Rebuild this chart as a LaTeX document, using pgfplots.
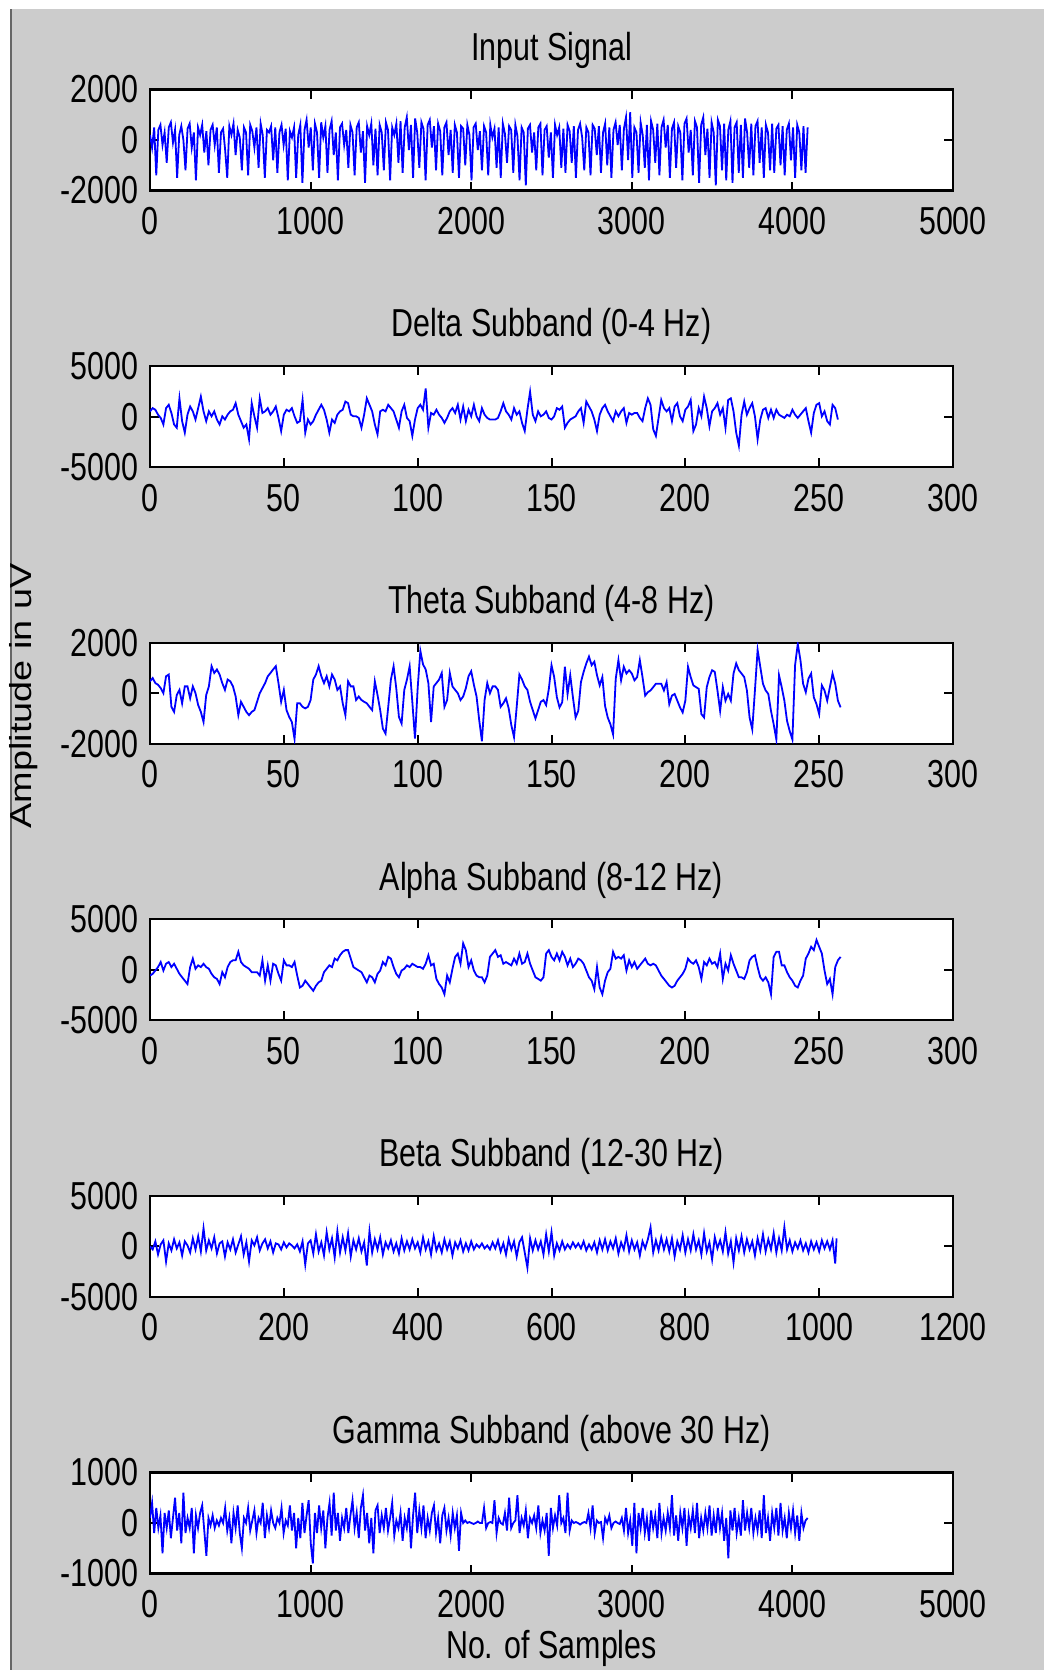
\documentclass[border=0pt]{standalone}
\usepackage{pgfplots}
\pgfplotsset{compat=1.18}
\usepackage{fontspec}
\setmainfont{Liberation Sans}[FakeStretch=0.78]
\newfontfamily\ylabfont{Liberation Sans}
\definecolor{figbg}{RGB}{204,204,204}
\definecolor{sigblue}{RGB}{0,0,255}

\pgfplotsset{
  sub/.style={
    scale only axis, width=401.5pt, height=50.5pt,
    anchor=north west,
    axis background/.style={fill=white},
    axis line style={line width=1.1pt},
    tick align=inside, tick pos=both,
    major tick length=4.5pt,
    every tick/.style={black, line width=1pt},
    tick label style={font=\fontsize{19.5}{22}\selectfont},
    xticklabel style={anchor=base, yshift=-22pt, inner sep=0pt},
    yticklabel style={anchor=east, xshift=-5.75pt, inner sep=0pt},
    title style={font=\fontsize{19.5}{22}\selectfont, anchor=base, at={(0.5,1)}, yshift=8.65pt, inner sep=0pt},
    /pgf/number format/assume math mode=true,
  },
  sig/.style={sigblue, line width=0.9pt, mark=none},
  ticks5000/.style={xmin=0, xmax=5000, xtick={0,1000,2000,3000,4000,5000}, xticklabels={0,1000,2000,3000,4000,5000}},
  ticks300/.style={xmin=0, xmax=300, xtick={0,50,100,150,200,250,300}, xticklabels={0,50,100,150,200,250,300}},
}

\begin{document}
\begin{tikzpicture}[font=\fontsize{19.5}{22}\selectfont]
\useasboundingbox (0,0) rectangle (522pt,-835pt);
\clip (0,0) rectangle (522pt,-835pt);
\fill[white] (0,0) rectangle (522pt,-835pt);
\fill[figbg] (6pt,-4.5pt) rectangle (522pt,-835pt);
\draw[line width=1.2pt, black!60] (5.4pt,-4.5pt) -- (5.4pt,-835pt);

% Input signal
\begin{axis}[sub, at={(75pt,-44.75pt)}, ticks5000,
  ymin=-2000, ymax=2000, ytick={-2000,0,2000}, yticklabels={-2000,0,2000},
  title={Input Signal}]
\addplot[sig] coordinates {
(0,200)(13,-300)(26,500)(39,-1400)(52,400)(65,600)(78,-200)(91,300)(104,-900)(117,500)
(130,700)(143,-100)(156,400)(169,-1500)(182,200)(195,550)(208,0)(221,-1200)(234,450)(247,650)
(260,-300)(273,300)(286,-1600)(299,500)(312,200)(325,600)(338,-500)(351,350)(364,-1000)(377,400)
(390,600)(403,-200)(416,500)(429,-1300)(442,300)(455,450)(468,-400)(481,-1500)(494,550)(507,200)
(520,650)(533,-600)(546,400)(559,100)(572,-1200)(585,500)(598,300)(611,-1400)(624,600)(637,350)
(650,-300)(663,500)(676,-1100)(689,650)(702,200)(715,-1500)(728,400)(741,300)(754,550)(767,-800)
(780,500)(793,-1300)(806,300)(819,600)(832,-200)(845,450)(858,-1600)(871,350)(884,100)(897,500)
(910,-1500)(923,200)(936,600)(949,-1700)(962,400)(975,800)(988,-300)(1001,500)(1014,-1200)(1027,650)
(1040,300)(1053,-1500)(1066,700)(1079,100)(1092,550)(1105,-1300)(1118,400)(1131,750)(1144,-600)(1157,300)
(1170,-1600)(1183,500)(1196,650)(1209,-200)(1222,400)(1235,-1100)(1248,600)(1261,300)(1274,-1400)(1287,500)
(1300,700)(1313,-500)(1326,350)(1339,-1700)(1352,550)(1365,200)(1378,650)(1391,-1000)(1404,450)(1417,-1400)
(1430,600)(1443,300)(1456,-1200)(1469,700)(1482,400)(1495,-1600)(1508,500)(1521,200)(1534,650)(1547,-900)
(1560,750)(1573,-1300)(1586,500)(1599,900)(1612,-400)(1625,600)(1638,-1500)(1651,850)(1664,300)(1677,-1100)
(1690,700)(1703,450)(1716,-1600)(1729,600)(1742,800)(1755,-300)(1768,550)(1781,-1200)(1794,650)(1807,350)
(1820,-1400)(1833,500)(1846,700)(1859,-600)(1872,400)(1885,-1300)(1898,600)(1911,300)(1924,-1500)(1937,550)
(1950,450)(1963,-1000)(1976,600)(1989,200)(2002,-1600)(2015,500)(2028,650)(2041,-400)(2054,350)(2067,-1200)
(2080,550)(2093,300)(2106,-1400)(2119,600)(2132,100)(2145,450)(2158,-1100)(2171,500)(2184,-1500)(2197,650)
(2210,250)(2223,-900)(2236,550)(2249,400)(2262,-1300)(2275,600)(2288,150)(2301,-1600)(2314,500)(2327,300)
(2340,-1800)(2353,450)(2366,600)(2379,-500)(2392,300)(2405,-1200)(2418,500)(2431,650)(2444,-1400)(2457,400)
(2470,550)(2483,-700)(2496,300)(2509,-1500)(2522,600)(2535,200)(2548,500)(2561,-1100)(2574,450)(2587,-1300)
(2600,600)(2613,350)(2626,-900)(2639,550)(2652,-1500)(2665,400)(2678,650)(2691,100)(2704,-1200)(2717,500)
(2730,300)(2743,-1400)(2756,600)(2769,450)(2782,-600)(2795,550)(2808,-1300)(2821,300)(2834,650)(2847,-1000)
(2860,500)(2873,-1500)(2886,400)(2899,700)(2912,-200)(2925,600)(2938,-1200)(2951,450)(2964,900)(2977,-800)
(2990,1100)(3003,-1500)(3016,500)(3029,300)(3042,-1300)(3055,700)(3068,200)(3081,-1100)(3094,600)(3107,-1600)
(3120,750)(3133,400)(3146,-900)(3159,650)(3172,-1400)(3185,500)(3198,800)(3211,-300)(3224,600)(3237,-1500)
(3250,450)(3263,700)(3276,-1100)(3289,550)(3302,300)(3315,-1600)(3328,650)(3341,850)(3354,-500)(3367,400)
(3380,-1400)(3393,750)(3406,500)(3419,-1700)(3432,600)(3445,900)(3458,-600)(3471,450)(3484,-1500)(3497,700)
(3510,300)(3523,-1800)(3536,800)(3549,550)(3562,-1200)(3575,650)(3588,-1600)(3601,400)(3614,750)(3627,-1700)
(3640,500)(3653,700)(3666,-1300)(3679,600)(3692,-1500)(3705,850)(3718,300)(3731,-1100)(3744,650)(3757,-1400)
(3770,550)(3783,750)(3796,-900)(3809,500)(3822,-1500)(3835,600)(3848,300)(3861,-1200)(3874,650)(3887,-1300)
(3900,450)(3913,600)(3926,-1000)(3939,550)(3952,-1400)(3965,400)(3978,650)(3991,-800)(4004,500)(4017,-1500)
(4030,600)(4043,300)(4056,-1200)(4069,550)(4082,-1300)(4095,500)
};
\end{axis}

% Delta
\begin{axis}[sub, at={(75pt,-183.05pt)}, ticks300,
  ymin=-5000, ymax=5000, ytick={-5000,0,5000}, yticklabels={-5000,0,5000},
  title={Delta Subband (0-4 Hz)}]
\addplot[sig] coordinates {
(0,520)(1,840)(2,680)(3,190)(4,-130)(5,-780)(6,840)(7,1170)(8,360)(9,-780)
(10,-1100)(11,1810)(12,-450)(13,-1590)(14,190)(15,1000)(16,520)(17,-290)(18,840)(19,1980)
(20,520)(21,-450)(22,520)(23,30)(24,520)(25,-290)(26,-780)(27,30)(28,-290)(29,190)
(30,520)(31,680)(32,1330)(33,190)(34,-450)(35,-1100)(36,-780)(37,-2240)(38,1330)(39,30)
(40,-1100)(41,1810)(42,360)(43,520)(44,840)(45,190)(46,520)(47,1000)(48,-130)(49,-1430)
(50,190)(51,680)(52,520)(53,840)(54,30)(55,-620)(56,-450)(57,1650)(58,-1590)(59,-290)
(60,-780)(61,-450)(62,190)(63,680)(64,1170)(65,680)(66,-290)(67,-1590)(68,-290)(69,-620)
(70,190)(71,520)(72,680)(73,1490)(74,1330)(75,190)(76,30)(77,30)(78,-130)(79,-1100)
(80,190)(81,1810)(82,1170)(83,520)(84,-780)(85,-1750)(86,520)(87,680)(88,520)(89,1170)
(90,840)(91,520)(92,-290)(93,-1100)(94,520)(95,1170)(96,-130)(97,-450)(98,-1910)(99,-290)
(100,840)(101,1170)(102,680)(103,2790)(104,-1100)(105,360)(106,190)(107,680)(108,190)(109,-130)
(110,-620)(111,-130)(112,520)(113,840)(114,360)(115,1170)(116,-290)(117,1000)(118,-450)(119,680)
(120,30)(121,1170)(122,30)(123,-450)(124,840)(125,190)(126,-130)(127,-290)(128,-290)(129,-290)
(130,-130)(131,520)(132,1330)(133,520)(134,190)(135,-290)(136,840)(137,190)(138,520)(139,-620)
(140,-1430)(141,680)(142,2460)(143,190)(144,-450)(145,520)(146,30)(147,190)(148,520)(149,-130)
(150,-290)(151,30)(152,840)(153,680)(154,1000)(155,-1100)(156,-620)(157,-290)(158,-130)(159,30)
(160,520)(161,840)(162,-620)(163,1490)(164,1000)(165,520)(166,-290)(167,-1430)(168,190)(169,840)
(170,1170)(171,520)(172,30)(173,-450)(174,520)(175,30)(176,520)(177,840)(178,-620)(179,360)
(180,190)(181,360)(182,360)(183,-130)(184,-450)(185,840)(186,1810)(187,1170)(188,-1260)(189,-1910)
(190,-130)(191,1650)(192,840)(193,520)(194,840)(195,-450)(196,1000)(197,1330)(198,30)(199,-450)
(200,680)(201,1000)(202,1650)(203,-1430)(204,-780)(205,840)(206,30)(207,1980)(208,840)(209,-940)
(210,520)(211,840)(212,1330)(213,190)(214,840)(215,-1100)(216,1650)(217,1810)(218,520)(219,-1590)
(220,-2880)(221,190)(222,1490)(223,190)(224,840)(225,1330)(226,30)(227,-2240)(228,-290)(229,680)
(230,840)(231,-130)(232,680)(233,-130)(234,680)(235,190)(236,30)(237,-130)(238,190)(239,30)
(240,680)(241,190)(242,-130)(243,190)(244,520)(245,840)(246,-450)(247,-1590)(248,360)(249,1170)
(250,1330)(251,30)(252,520)(253,-450)(254,-780)(255,1170)(256,840)(257,-290)
};
\end{axis}

% Theta
\begin{axis}[sub, at={(75pt,-321.35pt)}, ticks300,
  ymin=-2000, ymax=2000, ytick={-2000,0,2000}, yticklabels={-2000,0,2000},
  title={Theta Subband (4-8 Hz)}]
\addplot[sig] coordinates {
(0,470)(1,600)(2,400)(3,335)(4,200)(5,0)(6,670)(7,740)(8,-540)(9,-740)
(10,-70)(11,130)(12,-400)(13,270)(14,270)(15,-200)(16,270)(17,0)(18,-470)(19,-740)
(20,-1140)(21,-70)(22,270)(23,1070)(24,800)(25,940)(26,740)(27,400)(28,130)(29,540)
(30,470)(31,270)(32,-130)(33,-870)(34,-340)(35,-540)(36,-740)(37,-870)(38,-740)(39,-670)
(40,-340)(41,0)(42,200)(43,400)(44,670)(45,800)(46,940)(47,1070)(48,400)(49,-340)
(50,130)(51,-670)(52,-940)(53,-1140)(54,-1810)(55,-400)(56,-400)(57,-540)(58,-600)(59,-540)
(60,-270)(61,540)(62,740)(63,1070)(64,670)(65,400)(66,670)(67,270)(68,740)(69,540)
(70,130)(71,270)(72,-400)(73,-870)(74,470)(75,270)(76,270)(77,-270)(78,-130)(79,-270)
(80,-340)(81,-400)(82,-540)(83,-670)(84,470)(85,-70)(86,-670)(87,-1400)(88,-1600)(89,-540)
(90,540)(91,1070)(92,200)(93,-940)(94,-1200)(95,130)(96,540)(97,1070)(98,-340)(99,-1800)
(100,200)(101,1680)(102,1140)(103,940)(104,400)(105,-1140)(106,270)(107,400)(108,540)(109,800)
(110,-540)(111,-270)(112,800)(113,270)(114,130)(115,0)(116,-270)(117,-130)(118,200)(119,670)
(120,870)(121,335)(122,-130)(123,-1070)(124,-1900)(125,-270)(126,400)(127,0)(128,270)(129,270)
(130,130)(131,-540)(132,-400)(133,-200)(134,-600)(135,-1270)(136,-1740)(137,-540)(138,740)(139,540)
(140,270)(141,130)(142,-340)(143,-670)(144,-1000)(145,-670)(146,-340)(147,-270)(148,-470)(149,170)
(150,1110)(151,640)(152,-160)(153,-560)(154,-360)(155,1045)(156,-30)(157,710)(158,-160)(159,-960)
(160,-700)(161,440)(162,845)(163,1180)(164,1450)(165,1110)(166,1250)(167,710)(168,310)(169,640)
(170,-500)(171,-960)(172,-1230)(173,-1630)(174,575)(175,1310)(176,510)(177,1045)(178,780)(179,910)
(180,780)(181,510)(182,640)(183,1310)(184,640)(185,-95)(186,40)(187,110)(188,240)(189,375)
(190,375)(191,375)(192,110)(193,440)(194,-430)(195,-95)(196,-30)(197,-295)(198,-560)(199,-760)
(200,-295)(201,1045)(202,640)(203,310)(204,240)(205,175)(206,-830)(207,-960)(208,240)(209,640)
(210,910)(211,845)(212,110)(213,-700)(214,240)(215,-295)(216,-30)(217,-295)(218,780)(219,1180)
(220,910)(221,780)(222,640)(223,110)(224,-960)(225,-1430)(226,110)(227,1715)(228,1045)(229,375)
(230,110)(231,-30)(232,-700)(233,-1230)(234,-1835)(235,710)(236,240)(237,-295)(238,-1100)(239,-1500)
(240,-1835)(241,1110)(242,1950)(243,1310)(244,375)(245,40)(246,575)(247,780)(248,-160)(249,-430)
(250,-830)(251,310)(252,110)(253,-295)(254,240)(255,780)(256,375)(257,-295)(258,-560)
};
\end{axis}

% Alpha
\begin{axis}[sub, at={(75pt,-459.65pt)}, ticks300,
  ymin=-5000, ymax=5000, ytick={-5000,0,5000}, yticklabels={-5000,0,5000},
  title={Alpha Subband (8-12 Hz)}]
\addplot[sig] coordinates {
(0,-570)(1,-400)(2,-70)(3,270)(4,770)(5,-70)(6,600)(7,770)(8,270)(9,600)
(10,100)(11,-400)(12,-740)(13,-1075)(14,-1410)(15,270)(16,1110)(17,100)(18,440)(19,270)
(20,600)(21,270)(22,100)(23,-400)(24,-740)(25,-900)(26,-1410)(27,-235)(28,-740)(29,270)
(30,770)(31,940)(32,940)(33,1780)(34,770)(35,440)(36,270)(37,100)(38,-235)(39,-235)
(40,-235)(41,-570)(42,940)(43,-1075)(44,440)(45,-1075)(46,600)(47,440)(48,-400)(49,-1075)
(50,940)(51,440)(52,440)(53,270)(54,770)(55,-570)(56,-1750)(57,-1580)(58,-1075)(59,-1410)
(60,-1750)(61,-2080)(62,-1580)(63,-1240)(64,-1075)(65,-235)(66,100)(67,440)(68,270)(69,1110)
(70,940)(71,1445)(72,1780)(73,1950)(74,1950)(75,1110)(76,270)(77,100)(78,-70)(79,-235)
(80,-740)(81,-1240)(82,-570)(83,-740)(84,-1240)(85,-400)(86,-70)(87,770)(88,440)(89,1280)
(90,1110)(91,270)(92,-400)(93,-740)(94,-70)(95,100)(96,440)(97,270)(98,600)(99,440)
(100,270)(101,270)(102,100)(103,600)(104,1445)(105,440)(106,600)(107,-900)(108,-1410)(109,-1750)
(110,-2420)(111,-570)(112,-1240)(113,100)(114,1280)(115,1610)(116,600)(117,2620)(118,1950)(119,270)
(120,940)(121,-70)(122,-570)(123,-740)(124,-740)(125,-1240)(126,-570)(127,1280)(128,1610)(129,1950)
(130,1280)(131,1445)(132,600)(133,770)(134,600)(135,440)(136,1110)(137,600)(138,1610)(139,600)
(140,770)(141,1610)(142,600)(143,-70)(144,-740)(145,-900)(146,-1075)(147,-740)(148,1610)(149,1950)
(150,1280)(151,940)(152,1610)(153,940)(154,1780)(155,1280)(156,440)(157,1110)(158,270)(159,600)
(160,1110)(161,940)(162,600)(163,-70)(164,-740)(165,-1075)(166,-1915)(167,270)(168,-1750)(169,-2420)
(170,-1075)(171,-235)(172,100)(173,1780)(174,1110)(175,1280)(176,1110)(177,1445)(178,-70)(179,940)
(180,270)(181,770)(182,100)(183,440)(184,770)(185,1110)(186,600)(187,440)(188,600)(189,440)
(190,-70)(191,-570)(192,-900)(193,-1240)(194,-1580)(195,-1750)(196,-1580)(197,-1075)(198,-740)(199,-400)
(200,100)(201,1110)(202,770)(203,600)(204,940)(205,270)(206,-900)(207,770)(208,440)(209,1110)
(210,600)(211,770)(212,270)(213,1610)(214,-900)(215,600)(216,-70)(217,1445)(218,600)(219,-70)
(220,-740)(221,-740)(222,-900)(223,-235)(224,940)(225,1280)(226,1445)(227,270)(228,-740)(229,-1075)
(230,-740)(231,-1240)(232,-2420)(233,1280)(234,1780)(235,1780)(236,440)(237,440)(238,-235)(239,-740)
(240,-1075)(241,-1580)(242,-1750)(243,-1075)(244,-570)(245,1110)(246,1610)(247,2280)(248,1950)(249,2950)
(250,2280)(251,1610)(252,-70)(253,-1410)(254,-900)(255,-2420)(256,270)(257,940)(258,1280)
};
\end{axis}

% Beta
\begin{axis}[sub, at={(75pt,-597.95pt)},
  xmin=0, xmax=1200, xtick={0,200,400,600,800,1000,1200}, xticklabels={0,200,400,600,800,1000,1200},
  ymin=-5000, ymax=5000, ytick={-5000,0,5000}, yticklabels={-5000,0,5000},
  title={Beta Subband (12-30 Hz)}]
\addplot[sig] coordinates {
(0,0)(4,-300)(8,500)(12,-800)(16,200)(20,600)(24,-1500)(28,300)(32,-400)(36,700)
(40,-200)(44,400)(48,-900)(52,500)(56,100)(60,-600)(64,800)(68,-300)(72,1000)(76,-500)
(80,1800)(84,-400)(88,600)(92,-200)(96,900)(100,-700)(104,300)(108,500)(112,-1000)(116,400)
(120,-300)(124,700)(128,-600)(132,200)(136,1000)(140,-800)(144,400)(148,-1500)(152,600)(156,100)
(160,900)(164,-400)(168,300)(172,700)(176,-200)(180,500)(184,-600)(188,300)(192,200)(196,-300)
(200,400)(204,-100)(208,300)(212,100)(216,-200)(220,200)(224,-500)(228,500)(232,-1800)(236,300)
(240,600)(244,-700)(248,1200)(252,-500)(256,400)(260,-900)(264,1400)(268,-300)(272,800)(276,-1100)
(280,1500)(284,-600)(288,900)(292,-400)(296,1300)(300,-1000)(304,600)(308,-300)(312,800)(316,-500)
(320,400)(324,-1900)(328,1500)(332,-600)(336,700)(340,-300)(344,900)(348,-800)(352,400)(356,-200)
(360,600)(364,-500)(368,300)(372,-700)(376,800)(380,-400)(384,500)(388,-300)(392,700)(396,-200)
(400,400)(404,-600)(408,900)(412,-300)(416,500)(420,-800)(424,1000)(428,-400)(432,300)(436,-600)
(440,700)(444,-300)(448,500)(452,-900)(456,400)(460,-200)(464,600)(468,-500)(472,300)(476,-400)
(480,500)(484,-300)(488,200)(492,-100)(496,300)(500,-200)(504,100)(508,-300)(512,400)(516,-200)
(520,600)(524,-500)(528,300)(532,-800)(536,700)(540,-300)(544,500)(548,-1000)(552,400)(556,900)
(560,-600)(564,-2100)(568,800)(572,-400)(576,600)(580,-300)(584,500)(588,-800)(592,1200)(596,-500)
(600,1400)(604,-900)(608,300)(612,-400)(616,500)(620,-300)(624,200)(628,-200)(632,400)(636,-100)
(640,300)(644,-200)(648,500)(652,-400)(656,200)(660,-300)(664,400)(668,-600)(672,600)(676,-300)
(680,700)(684,-400)(688,500)(692,-200)(696,800)(700,-700)(704,400)(708,-300)(712,1100)(716,-500)
(720,600)(724,-300)(728,400)(732,-900)(736,500)(740,-200)(744,700)(748,1900)(752,-600)(756,600)
(760,-400)(764,900)(768,-300)(772,700)(776,-500)(780,800)(784,-1000)(788,500)(792,-300)(796,1100)
(800,-600)(804,700)(808,-400)(812,1200)(816,-300)(820,600)(824,-800)(828,1300)(832,-500)(836,400)
(840,-1300)(844,900)(848,-200)(852,600)(856,-500)(860,1400)(864,-700)(868,500)(872,-1600)(876,800)
(880,-400)(884,1000)(888,-600)(892,700)(896,-300)(900,500)(904,-900)(908,800)(912,-400)(916,1200)
(920,-500)(924,700)(928,-300)(932,1300)(936,-600)(940,800)(944,-400)(948,1900)(952,-300)(956,600)
(960,-500)(964,400)(968,-200)(972,600)(976,-400)(980,300)(984,-600)(988,500)(992,-300)(996,400)
(1000,-500)(1004,600)(1008,-200)(1012,500)(1016,-300)(1020,600)(1024,-1700)(1026,800)
};
\end{axis}

% Gamma
\begin{axis}[sub, at={(75pt,-736.25pt)}, ticks5000,
  ymin=-1000, ymax=1000, ytick={-1000,0,1000}, yticklabels={-1000,0,1000},
  title={Gamma Subband (above 30 Hz)},
  xlabel={No. of Samples},
  xlabel style={font=\fontsize{19.5}{22}\selectfont, at={(axis description cs:0.5,0)}, anchor=base, yshift=-42.5pt, inner sep=0pt}]
\addplot[sig] coordinates {
(0,100)(13,400)(26,-200)(39,300)(52,-100)(65,150)(78,-600)(91,200)(104,-100)(117,250)
(130,-300)(143,100)(156,500)(169,-150)(182,200)(195,-400)(208,600)(221,-200)(234,100)(247,-100)
(260,300)(273,-600)(286,150)(299,-100)(312,200)(325,350)(338,-150)(351,-650)(364,100)(377,-50)
(390,150)(403,-100)(416,50)(429,-50)(442,100)(455,0)(468,300)(481,-150)(494,100)(507,-400)
(520,200)(533,-100)(546,350)(559,-200)(572,-500)(585,100)(598,0)(611,300)(624,-150)(637,50)
(650,250)(663,-200)(676,100)(689,0)(702,400)(715,-300)(728,150)(741,-100)(754,250)(767,0)
(780,-100)(793,100)(806,0)(819,300)(832,-200)(845,50)(858,-50)(871,350)(884,-150)(897,200)
(910,-500)(923,100)(936,-300)(949,400)(962,-200)(975,150)(988,450)(1001,-400)(1014,-800)(1027,200)
(1040,-200)(1053,350)(1066,-100)(1079,250)(1092,-500)(1105,100)(1118,400)(1131,-250)(1144,600)(1157,-150)
(1170,200)(1183,-350)(1196,100)(1209,-100)(1222,300)(1235,-200)(1248,150)(1261,450)(1274,-100)(1287,200)
(1300,-300)(1313,300)(1326,550)(1339,-150)(1352,200)(1365,-400)(1378,100)(1391,-600)(1404,250)(1417,350)
(1430,-200)(1443,150)(1456,-100)(1469,300)(1482,-150)(1495,100)(1508,400)(1521,-250)(1534,50)(1547,-100)
(1560,200)(1573,-350)(1586,100)(1599,-100)(1612,300)(1625,-500)(1638,150)(1651,600)(1664,-200)(1677,250)
(1690,-100)(1703,350)(1716,-300)(1729,100)(1742,-150)(1755,200)(1768,350)(1781,-200)(1794,100)(1807,-400)
(1820,150)(1833,300)(1846,-150)(1859,100)(1872,-250)(1885,200)(1898,-100)(1911,150)(1924,-550)(1937,200)
(1950,0)(1963,50)(1976,0)(1989,20)(2002,0)(2015,-20)(2028,0)(2041,30)(2054,0)(2067,0)
(2080,300)(2093,-100)(2106,0)(2119,20)(2132,0)(2145,450)(2158,-200)(2171,100)(2184,0)(2197,-30)
(2210,200)(2223,-150)(2236,500)(2249,-100)(2262,0)(2275,50)(2288,550)(2301,-200)(2314,100)(2327,-50)
(2340,250)(2353,-300)(2366,100)(2379,0)(2392,150)(2405,-100)(2418,350)(2431,-200)(2444,50)(2457,-150)
(2470,200)(2483,-650)(2496,300)(2509,-100)(2522,150)(2535,-50)(2548,550)(2561,0)(2574,100)(2587,-200)
(2600,600)(2613,-150)(2626,50)(2639,0)(2652,20)(2665,0)(2678,-30)(2691,0)(2704,20)(2717,0)
(2730,200)(2743,-100)(2756,350)(2769,-200)(2782,50)(2795,0)(2808,20)(2821,-300)(2834,100)(2847,0)
(2860,150)(2873,-100)(2886,0)(2899,30)(2912,0)(2925,-20)(2938,100)(2951,-150)(2964,300)(2977,-200)
(2990,50)(3003,-450)(3016,400)(3029,-600)(3042,200)(3055,-100)(3068,300)(3081,-200)(3094,100)(3107,-350)
(3120,250)(3133,-100)(3146,150)(3159,-300)(3172,400)(3185,-200)(3198,100)(3211,-150)(3224,200)(3237,-100)
(3250,550)(3263,-250)(3276,150)(3289,-350)(3302,200)(3315,-100)(3328,300)(3341,-450)(3354,150)(3367,-100)
(3380,250)(3393,-200)(3406,400)(3419,-300)(3432,100)(3445,-150)(3458,200)(3471,-100)(3484,350)(3497,-250)
(3510,150)(3523,-200)(3536,300)(3549,-100)(3562,200)(3575,-350)(3588,100)(3601,-700)(3614,250)(3627,-150)
(3640,300)(3653,-200)(3666,100)(3679,-250)(3692,450)(3705,-150)(3718,200)(3731,-100)(3744,300)(3757,-200)
(3770,100)(3783,-150)(3796,250)(3809,-300)(3822,550)(3835,-200)(3848,100)(3861,-350)(3874,200)(3887,-100)
(3900,300)(3913,-250)(3926,400)(3939,-150)(3952,100)(3965,-300)(3978,200)(3991,-100)(4004,250)(4017,-200)
(4030,150)(4043,-350)(4056,200)(4069,-100)(4082,50)(4095,100)
};
\end{axis}

\node[rotate=90, inner sep=0pt] at (11.75pt,-348pt) {\scalebox{0.97}[0.78]{\ylabfont\fontsize{19.5}{22}\selectfont Amplitude in uV}};
\end{tikzpicture}
\end{document}
